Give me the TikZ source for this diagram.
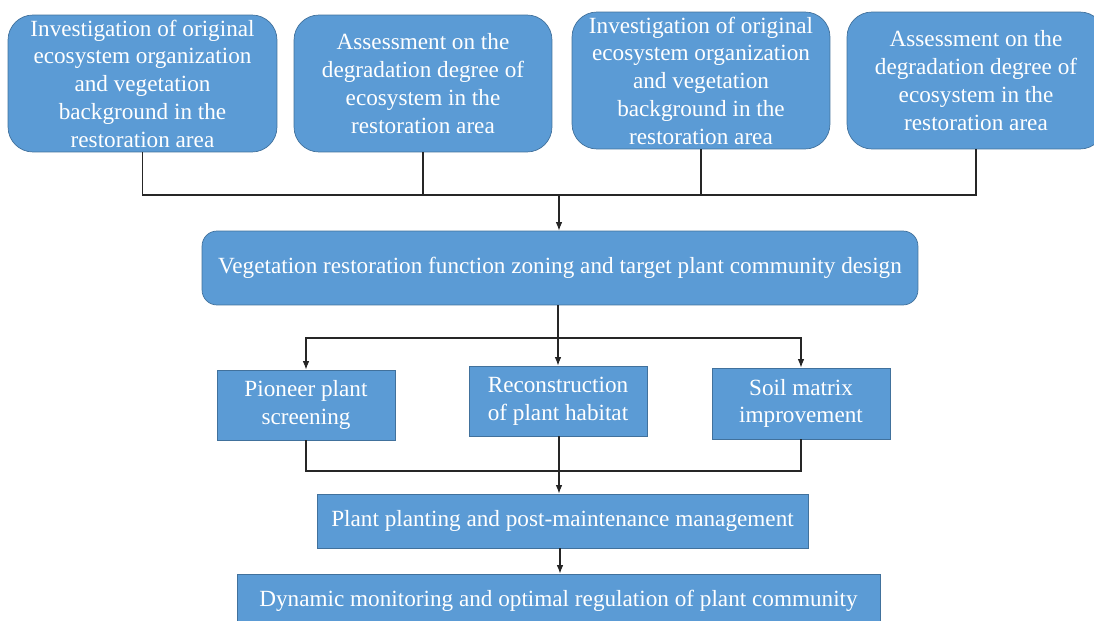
\documentclass[tikz,border=0pt]{standalone}
\usepackage{fontspec}
\setmainfont{Liberation Serif}
\usetikzlibrary{arrows.meta,positioning,calc}
\definecolor{boxBlue}{RGB}{91,155,213}
\definecolor{boxEdge}{RGB}{65,113,156}

\begin{document}
\begin{tikzpicture}[x=0.02cm, y=-0.02cm,
		blockR/.style={draw=boxEdge, fill=boxBlue, text=white, rounded corners=0.5cm,
			align=center, inner sep=0pt, font=\fontsize{13.2}{15.8}\selectfont},
		blockS/.style={draw=boxEdge, fill=boxBlue, text=white,
			align=center, inner sep=0pt, font=\fontsize{13.2}{15.8}\selectfont},
		link/.style={draw=black!85, line width=0.6pt},
		flow/.style={link, -{Latex[length=1.7mm,width=1.3mm]}}]
				\useasboundingbox (0,0) rectangle (1094,621);
				% top row
				\node[blockR, minimum width=5.38cm, minimum height=2.74cm] (inv1) at (142.5,83.5)
					{Investigation of original\\ecosystem organization\\and vegetation\\background in the\\restoration area};
				\node[blockR, minimum width=5.16cm, minimum height=2.74cm] (deg1) at (423,83.5)
					{Assessment on the\\degradation degree of\\ecosystem in the\\restoration area};
				\node[blockR, minimum width=5.16cm, minimum height=2.74cm] (inv2) at (701,80.5)
					{Investigation of original\\ecosystem organization\\and vegetation\\background in the\\restoration area};
				\node[blockR, minimum width=5.16cm, minimum height=2.74cm] (deg2) at (976,80.5)
					{Assessment on the\\degradation degree of\\ecosystem in the\\restoration area};
				% design
				\node[blockR, rounded corners=0.3cm, minimum width=14.32cm, minimum height=1.48cm] (zoning) at (560,268)
					{Vegetation restoration function zoning and target plant community design};
				% measures
				\node[blockS, minimum width=3.56cm, minimum height=1.4cm] (pioneer) at (306,405)
					{Pioneer plant\\screening};
				\node[blockS, minimum width=3.56cm, minimum height=1.4cm] (habitat) at (558,401)
					{Reconstruction\\of plant habitat};
				\node[blockS, minimum width=3.56cm, minimum height=1.42cm] (soil) at (801,403.5)
					{Soil matrix\\improvement};
				\node[blockS, minimum width=9.82cm, minimum height=1.08cm] (planting) at (562.5,521)
					{Plant planting and post-maintenance management};
				\node[blockS, minimum width=12.86cm, minimum height=1.08cm] (monitor) at (558.5,601)
					{Dynamic monitoring and optimal regulation of plant community};
				% connectors
				\coordinate (busA) at (559,195);
				\coordinate (busB) at (558,338);
				\coordinate (busC) at (559,471);
				\draw[link] (inv1.south) |- (busA);
				\draw[link] (deg2.south) |- (busA);
				\draw[link] (deg1.south) -- (deg1.south |- busA);
				\draw[link] (inv2.south) -- (inv2.south |- busA);
				\draw[flow] (busA) -- (busA |- zoning.north);
				\draw[link] (busB |- zoning.south) -- (busB);
				\draw[flow] (busB) -| (pioneer.north);
				\draw[flow] (busB) -| (soil.north);
				\draw[flow] (busB) -- (busB |- habitat.north);
				\draw[link] (pioneer.south) |- (busC);
				\draw[link] (soil.south) |- (busC);
				\draw[link] (busC |- habitat.south) -- (busC);
				\draw[flow] (busC) -- (busC |- planting.north);
				\draw[flow] (planting.south -| 560,0) -- (560,0 |- monitor.north);
			\end{tikzpicture}
\end{document}
